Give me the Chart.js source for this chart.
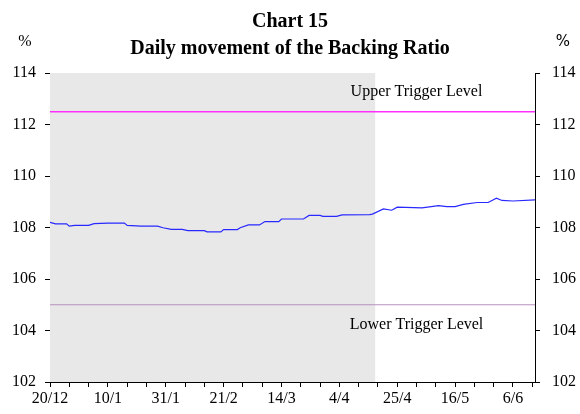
<!DOCTYPE html>
<html>
<head>
<meta charset="utf-8">
<title>Chart 15 - Daily movement of the Backing Ratio</title>
<script src="https://cdn.jsdelivr.net/npm/chart.js@4.4.1/dist/chart.umd.min.js"></script>
<style>
    html, body { margin: 0; padding: 0; background: #fff; }
    #wrap { width: 580px; height: 414px; position: relative; }
</style>
</head>
<body>
<div id="wrap"><canvas id="backing-chart"></canvas></div>
<script>
// ── data ─────────────────────────────────────────────────────────
// x = days after 20/12, y = backing ratio (%)
const days = [0, 2, 6, 7, 9, 14, 16, 21, 27, 28, 33, 39, 41, 44, 48, 50, 56, 57, 62, 63,
              68, 69, 72, 76, 78, 83, 84, 92, 94, 98, 99, 104, 106, 116, 117, 121, 124, 126,
              135, 141, 144, 147, 150, 155, 159, 162, 164, 168, 176];
const backingRatio = [108.20, 108.14, 108.14, 108.05, 108.08, 108.08, 108.15, 108.17, 108.17, 108.08,
                      108.05, 108.05, 107.99, 107.93, 107.93, 107.88, 107.88, 107.83, 107.83, 107.92,
                      107.92, 107.99, 108.10, 108.10, 108.23, 108.23, 108.33, 108.33, 108.47, 108.47,
                      108.43, 108.43, 108.49, 108.50, 108.52, 108.72, 108.67, 108.79,
                      108.76, 108.85, 108.81, 108.81, 108.90, 108.97, 108.97, 109.14, 109.05, 109.03, 109.07];
const dateLabels = ['20/12', '10/1', '31/1', '21/2', '14/3', '4/4', '25/4', '16/5', '6/6'];
const yTicks = [102, 104, 106, 108, 110, 112, 114];
const upperTrigger = 112.5;
const lowerTrigger = 105.0;
const shadeEndDay = 118;
const lastDay = 176;

Chart.defaults.font.family = "'Liberation Serif', 'Times New Roman', serif";
Chart.defaults.font.size = 16;
Chart.defaults.color = '#000';

// grey shading for the earlier period
const shadePlugin = {
    id: 'shade',
    beforeDatasetsDraw(chart) {
        const { ctx, chartArea, scales } = chart;
        const x0 = scales.x.getPixelForValue(0);
        const x1 = scales.x.getPixelForValue(shadeEndDay);
        ctx.save();
        ctx.fillStyle = '#e8e8e8';
        ctx.fillRect(x0, chartArea.top, x1 - x0, chartArea.bottom - chartArea.top);
        ctx.restore();
    }
};

// trigger level captions and % unit labels
const textPlugin = {
    id: 'captions',
    afterDraw(chart) {
        const { ctx, scales } = chart;
        ctx.save();
        ctx.fillStyle = '#000';
        ctx.textAlign = 'center';
        ctx.textBaseline = 'middle';
        ctx.font = "16px 'Liberation Serif', serif";
        const cx = scales.x.getPixelForValue(133);
        ctx.fillText('Upper Trigger Level', cx, scales.y.getPixelForValue(upperTrigger) - 20);
        ctx.fillText('Lower Trigger Level', cx, scales.y.getPixelForValue(lowerTrigger) + 20);

        ctx.fillText('%', 25, 42);
        ctx.font = "15px 'DejaVu Sans', sans-serif";
        ctx.fillText('%', 563, 42);
        ctx.restore();
    }
};

const yAxis = (position, width, pad) => ({
    type: 'linear',
    position,
    min: 102,
    max: 114,
    afterBuildTicks: scale => { scale.ticks = yTicks.map(v => ({ value: v })); },
    afterFit: scale => { scale.width = width; },
    border: { display: true, color: '#000', width: 1 },
    grid: { drawOnChartArea: false, color: '#000', tickLength: 5 },
    ticks: { padding: pad, font: { size: 16 } }
});

new Chart(document.getElementById('backing-chart'), {
    type: 'line',
    data: {
        datasets: [
            {
                label: 'Backing Ratio',
                data: days.map((d, i) => ({ x: d, y: backingRatio[i] })),
                borderColor: '#2828ff',
                borderWidth: 1.2,
                pointRadius: 0,
                tension: 0
            },
            {
                label: 'Upper Trigger Level',
                data: [{ x: 0, y: upperTrigger }, { x: lastDay, y: upperTrigger }],
                borderColor: '#ff30ff',
                borderWidth: 1.5,
                pointRadius: 0
            },
            {
                label: 'Lower Trigger Level',
                data: [{ x: 0, y: lowerTrigger }, { x: lastDay, y: lowerTrigger }],
                borderColor: '#b890c0',
                borderWidth: 1,
                pointRadius: 0
            }
        ]
    },
    options: {
        responsive: true,
        maintainAspectRatio: false,
        animation: false,
        layout: { padding: 0 },
        scales: {
            x: {
                type: 'linear',
                min: 0,
                max: lastDay,
                afterBuildTicks: scale => {
                    const t = [];
                    for (let v = 0; v < lastDay; v += 7) t.push({ value: v });
                    scale.ticks = t;
                },
                afterFit: scale => { scale.height = 32; },
                border: { display: true, color: '#000', width: 1 },
                grid: { drawOnChartArea: false, color: '#000', tickLength: 5 },
                ticks: {
                    autoSkip: false,
                    maxRotation: 0,
                    padding: 2,
                    callback: v => (v % 21 === 0 ? dateLabels[v / 21] : '')
                }
            },
            y: yAxis('left', 50, 9),
            y2: yAxis('right', 45, 12)
        },
        plugins: {
            legend: { display: false },
            tooltip: { enabled: false },
            title: {
                display: true,
                text: ['Chart 15', 'Daily movement of the Backing Ratio'],
                font: { size: 20, weight: 'bold', lineHeight: 1.35 },
                color: '#000',
                padding: { top: 8, bottom: 11 }
            }
        }
    },
    plugins: [shadePlugin, textPlugin]
});
</script>
</body>
</html>
